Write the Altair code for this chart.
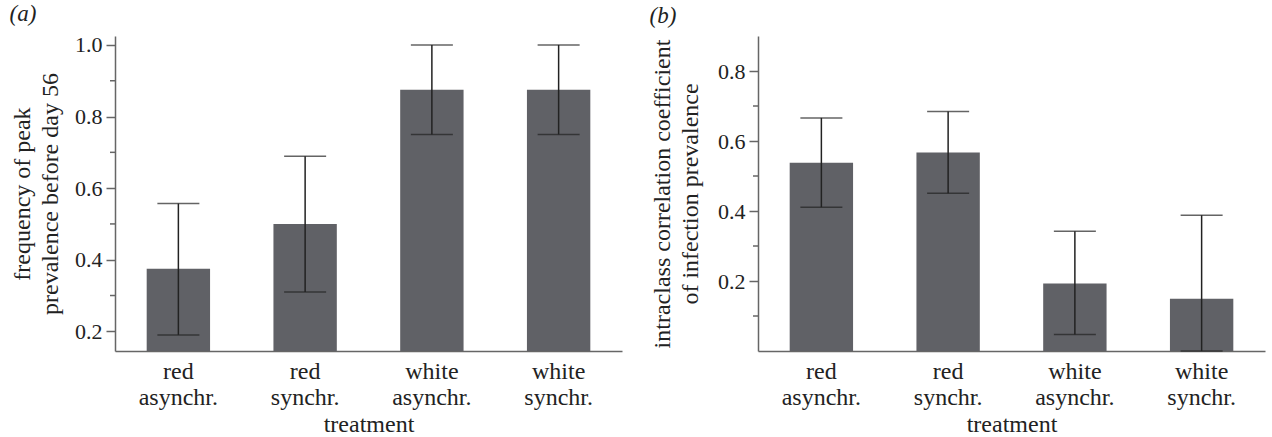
import altair as alt
import pandas as pd

treatments = ["red asynchr.", "red synchr.", "white asynchr.", "white synchr."]

# panel (a): frequency of peak prevalence before day 56
peak_freq = [0.375, 0.5, 0.875, 0.875]
peak_lo = [0.19, 0.31, 0.75, 0.75]
peak_hi = [0.557, 0.689, 1.0, 1.0]
major_a = [0.2, 0.4, 0.6, 0.8, 1.0]
minor_a = [0.3, 0.5, 0.7, 0.9]
domain_a = [0.145, 1.025]

# panel (b): intraclass correlation coefficient of infection prevalence
icc = [0.538, 0.567, 0.193, 0.149]
icc_lo = [0.411, 0.451, 0.047, 0.0]
icc_hi = [0.666, 0.684, 0.342, 0.388]
major_b = [0.2, 0.4, 0.6, 0.8]
minor_b = [0.1, 0.3, 0.5, 0.7]
domain_b = [0.0, 0.9]

FONT = "Liberation Serif"
BAR = "#606166"
AXIS = "#666666"
ERR = "#222222"
TEXT = "#222222"


def panel(values, lo, hi, domain, major, minor, ytitle, tag, tag_dx, ytp):
    df = pd.DataFrame({"treatment": treatments, "value": values, "lo": lo, "hi": hi})
    mdf = pd.DataFrame({"m": minor})
    xscale = alt.Scale(paddingInner=0.5, paddingOuter=0.25)
    x = alt.X("treatment:N", sort=treatments, title="treatment", scale=xscale,
              axis=alt.Axis(labelAngle=0, ticks=False,
                            labelExpr="split(datum.label, ' ')",
                            labelFontSize=24, labelLineHeight=26,
                            labelPadding=8, titlePadding=3))
    xs = alt.X("treatment:N", sort=treatments, title="treatment", scale=xscale)
    yscale = alt.Scale(domain=domain, nice=False, zero=False)
    yaxis = alt.Axis(values=major, format=".1f", tickSize=9, labelPadding=4,
                     labelFontSize=22, grid=False, titlePadding=ytp,
                     titleLineHeight=28)
    bars = alt.Chart(df).mark_bar(color=BAR, clip=True).encode(
        x=x, y=alt.Y("value:Q", scale=yscale, title=ytitle, axis=yaxis))
    rules = alt.Chart(df).mark_rule(color=ERR, strokeWidth=1.5).encode(
        x=xs, y=alt.Y("lo:Q", title=ytitle), y2="hi:Q")
    cap_hi = alt.Chart(df).mark_tick(color=ERR, thickness=1.5, size=42).encode(
        x=xs, y=alt.Y("hi:Q", title=ytitle))
    cap_lo = alt.Chart(df).mark_tick(color=ERR, thickness=1.5, size=42).encode(
        x=xs, y=alt.Y("lo:Q", title=ytitle))
    minor_ticks = alt.Chart(mdf).mark_rule(color=AXIS, strokeWidth=1.5).encode(
        y=alt.Y("m:Q", title=ytitle), x=alt.value(-5), x2=alt.value(0))
    return alt.layer(bars, rules, cap_hi, cap_lo, minor_ticks).properties(
        width=507, height=315,
        title=alt.TitleParams(tag, anchor="start", frame="bounds", font=FONT,
                              fontSize=23, fontStyle="italic", fontWeight="normal",
                              color=TEXT, offset=8, dx=tag_dx))


left = panel(peak_freq, peak_lo, peak_hi, domain_a, major_a, minor_a,
             ["frequency of peak", "prevalence before day 56"], "(a)", -1, 12)
right = panel(icc, icc_lo, icc_hi, domain_b, major_b, minor_b,
              ["intraclass correlation coefficient", "of infection prevalence"], "(b)", -1, 15)

chart = alt.hconcat(left, right, spacing=27).properties(
    padding={"left": 9, "top": 2, "right": 5, "bottom": 0}
).configure_view(stroke=None).configure_axis(
    labelFont=FONT, titleFont=FONT, labelFontSize=23, titleFontSize=24,
    titleFontWeight="normal", labelColor=TEXT, titleColor=TEXT,
    domainColor=AXIS, domainWidth=1.5, tickColor=AXIS, tickWidth=1.5,
)

chart.save("out.html", embed_options={"renderer": "svg", "actions": False})
